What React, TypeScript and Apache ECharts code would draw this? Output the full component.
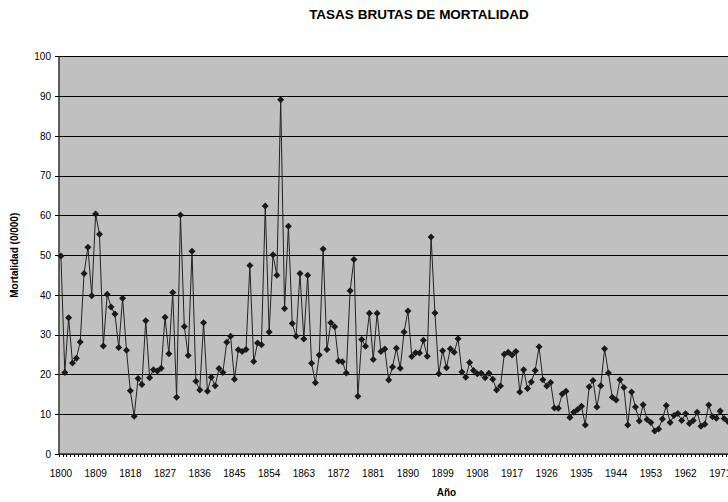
import React, { useEffect, useRef } from "react";
import * as echarts from "echarts";

// Categories: years 1800–2000 (the plot continues past the right edge of the picture)
const firstYear = 1800;
const lastYear = 2000;
const years: string[] = Array.from({ length: lastYear - firstYear + 1 }, (_, i) => String(firstYear + i));

// Crude death rate (per 1000), by decade
const rates1800s = [49.8, 20.5, 34.3, 22.9, 24.1, 28.2, 45.4, 52.0, 39.8, 60.4];
const rates1810s = [55.3, 27.2, 40.2, 37.0, 35.2, 26.8, 39.2, 26.1, 15.9, 9.5];
const rates1820s = [19.0, 17.5, 33.5, 19.2, 21.2, 20.9, 21.6, 34.4, 25.2, 40.6];
const rates1830s = [14.3, 60.1, 32.1, 24.8, 51.0, 18.3, 16.1, 33.0, 15.8, 19.3];
const rates1840s = [17.2, 21.5, 20.5, 28.1, 29.6, 18.8, 26.2, 25.8, 26.3, 47.4];
const rates1850s = [23.3, 27.9, 27.5, 62.4, 30.7, 50.1, 45.0, 89.1, 36.6, 57.3];
const rates1860s = [32.8, 29.6, 45.4, 28.9, 45.0, 22.8, 17.9, 24.9, 51.6, 26.3];
const rates1870s = [33.0, 32.0, 23.4, 23.2, 20.4, 41.1, 48.9, 14.5, 28.8, 27.1];
const rates1880s = [35.4, 23.8, 35.4, 25.8, 26.4, 18.6, 21.9, 26.6, 21.6, 30.7];
const rates1890s = [36.0, 24.5, 25.5, 25.4, 28.6, 24.6, 54.6, 35.5, 20.2, 26.0];
const rates1900s = [21.7, 26.5, 25.6, 29.0, 20.6, 19.3, 23.0, 21.0, 20.2, 20.3];
const rates1910s = [19.2, 20.3, 18.8, 16.1, 17.1, 25.1, 25.6, 24.9, 25.8, 15.6];
const rates1920s = [21.2, 16.5, 18.1, 21.0, 27.0, 18.7, 17.1, 18.0, 11.6, 11.5];
const rates1930s = [15.1, 15.8, 9.2, 10.5, 11.2, 12.0, 7.3, 16.9, 18.5, 11.8];
const rates1940s = [17.2, 26.5, 20.4, 14.3, 13.6, 18.7, 16.7, 7.3, 15.6, 11.8];
const rates1950s = [8.3, 12.4, 8.7, 7.9, 5.8, 6.3, 8.8, 12.2, 7.9, 9.7];
const rates1960s = [10.2, 8.4, 10.1, 7.7, 8.4, 10.5, 7.0, 7.5, 12.3, 9.4];
const rates1970s = [9.0, 10.8, 8.9, 8.2];

const mortality = [
  ...rates1800s, ...rates1810s, ...rates1820s, ...rates1830s, ...rates1840s,
  ...rates1850s, ...rates1860s, ...rates1870s, ...rates1880s, ...rates1890s,
  ...rates1900s, ...rates1910s, ...rates1920s, ...rates1930s, ...rates1940s,
  ...rates1950s, ...rates1960s, ...rates1970s,
];

const titleText = "TASAS BRUTAS DE MORTALIDAD";
const yAxisTitle = "Mortalidad (0/000)";
const xAxisTitle = "Año";

const FONT = "'Liberation Sans', Arial, Helvetica, sans-serif";

export default function App() {
  const ref = useRef<HTMLDivElement>(null);

  useEffect(() => {
    if (!ref.current) return;
    const chart = echarts.init(ref.current, undefined, { renderer: "svg" });
    chart.setOption({
      animation: false,
      backgroundColor: "#ffffff",
      textStyle: { fontFamily: FONT },
      graphic: [
        {
          type: "text",
          x: 419,
          y: 14,
          style: {
            text: titleText,
            fontFamily: FONT,
            fontSize: 13.5,
            fontWeight: "bold",
            fill: "#000",
            align: "center",
            verticalAlign: "middle",
          },
        },
      ],
      grid: {
        left: 59,
        top: 56.5,
        width: 775,
        height: 398,
        show: true,
        backgroundColor: "#C0C0C0",
        borderColor: "#808080",
        borderWidth: 1,
        containLabel: false,
      },
      xAxis: {
        type: "category",
        data: years,
        boundaryGap: true,
        name: xAxisTitle,
        nameLocation: "middle",
        nameGap: 33,
        nameTextStyle: { fontFamily: FONT, fontSize: 10, fontWeight: "bold", color: "#000" },
        axisLine: { show: true, lineStyle: { color: "#404040", width: 1.5 } },
        axisTick: { show: true, interval: 0, length: 3, lineStyle: { color: "#000", width: 1 } },
        axisLabel: { interval: 8, fontFamily: FONT, fontSize: 10, color: "#000", margin: 14 },
        splitLine: { show: false },
      },
      yAxis: {
        type: "value",
        min: 0,
        max: 100,
        interval: 10,
        name: yAxisTitle,
        nameLocation: "middle",
        nameGap: 40,
        nameRotate: 90,
        nameTextStyle: { fontFamily: FONT, fontSize: 10, fontWeight: "bold", color: "#000" },
        axisLine: { show: true, lineStyle: { color: "#404040", width: 1.5 } },
        axisTick: { show: true, length: 4, lineStyle: { color: "#000", width: 1 } },
        axisLabel: { fontFamily: FONT, fontSize: 10, color: "#000", margin: 8 },
        splitLine: { show: true, lineStyle: { color: "#000", width: 1 } },
      },
      series: [
        {
          type: "line",
          data: mortality,
          symbol: "diamond",
          symbolSize: 7,
          showAllSymbol: true,
          lineStyle: { color: "#222", width: 1 },
          itemStyle: { color: "#1a1a1a" },
        },
      ],
    });
    return () => chart.dispose();
  }, []);

  return (
    <div
      style={{
        position: "fixed",
        left: 0,
        top: 0,
        width: 728,
        height: 502,
        overflow: "hidden",
        background: "#fff",
      }}
    >
      <div ref={ref} style={{ width: 860, height: 502 }} />
    </div>
  );
}
